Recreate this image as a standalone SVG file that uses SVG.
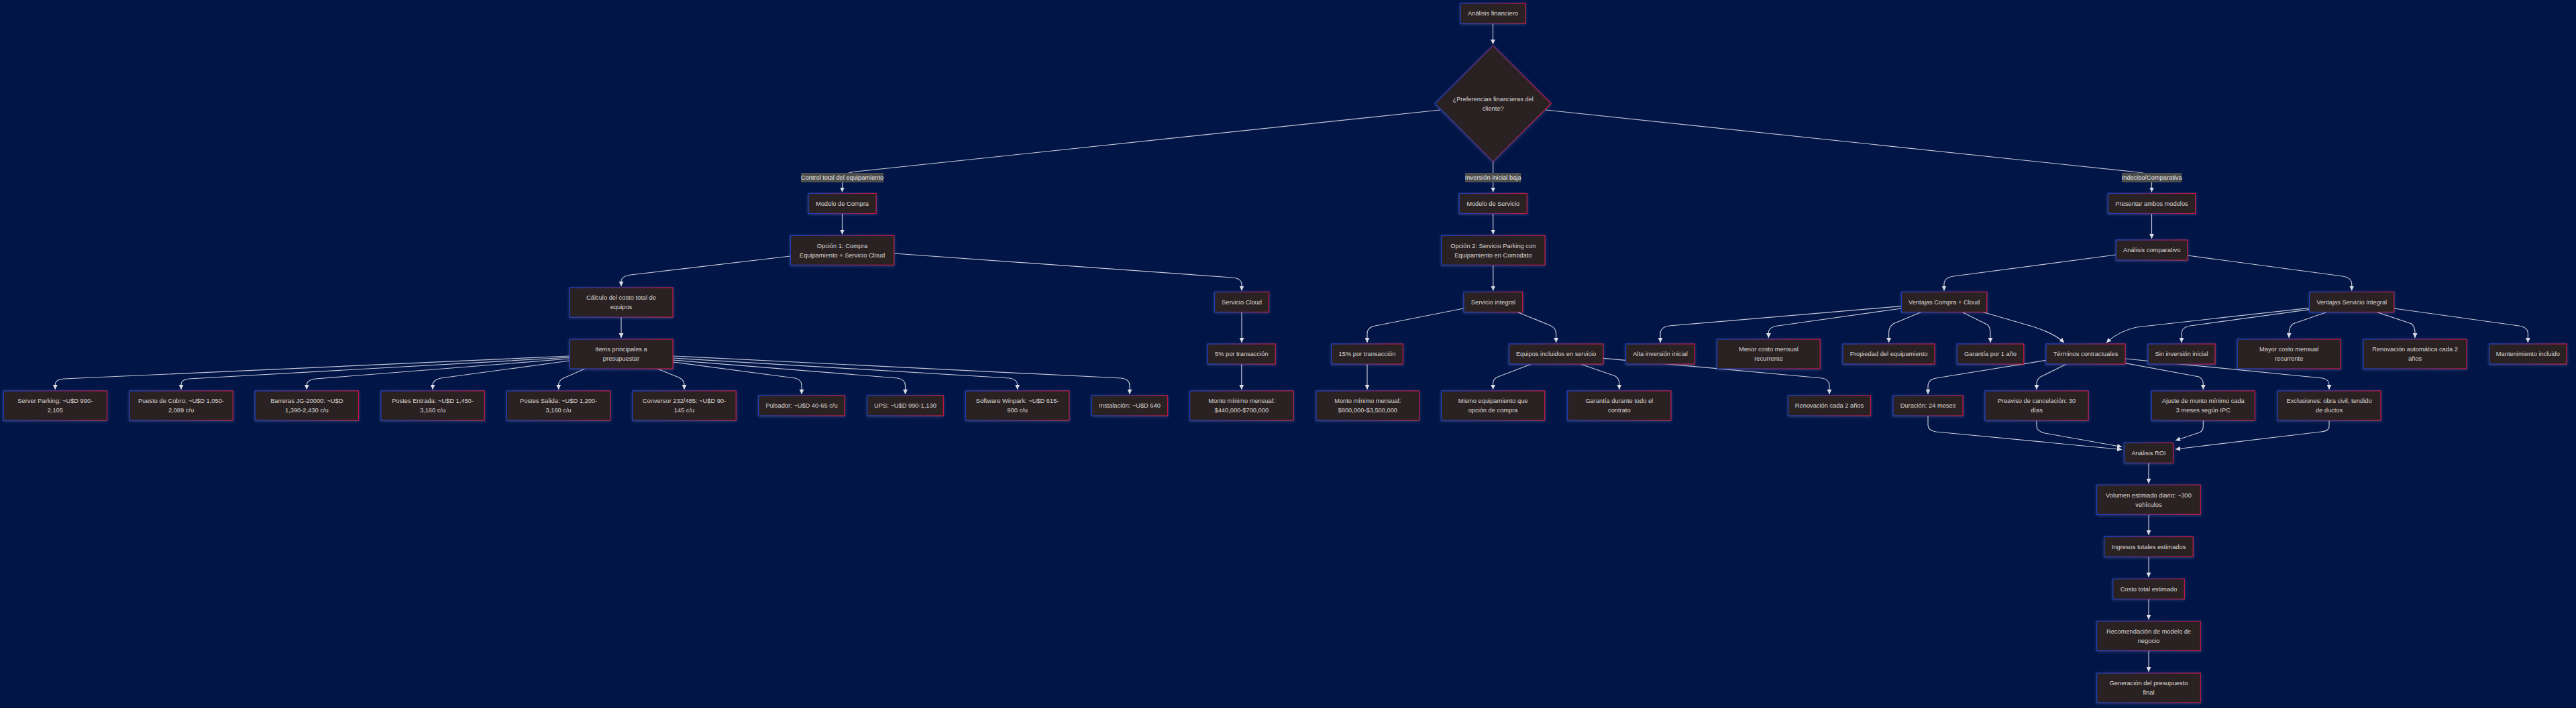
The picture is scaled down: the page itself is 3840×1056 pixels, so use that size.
<svg xmlns="http://www.w3.org/2000/svg" width="3840" height="1056" viewBox="0 0 3840 1056">
<defs>
<linearGradient id="bd" x1="0" y1="0" x2="1" y2="0">
<stop offset="0" stop-color="#1d3ec4"/>
<stop offset="1" stop-color="#cc1046"/>
</linearGradient>
<filter id="sh" x="-20%" y="-30%" width="140%" height="160%">
<feDropShadow dx="0" dy="1" stdDeviation="2" flood-color="#9aa0c8" flood-opacity="0.3"/>
</filter>
<marker id="ah" viewBox="0 0 10 10" refX="10" refY="5" markerWidth="7" markerHeight="7" markerUnits="userSpaceOnUse" orient="auto">
<path d="M0,0 L10,5 L0,10 z" fill="#dcdce4"/>
</marker>
<style>
.n rect, .n polygon { fill:#2c2321; stroke:url(#bd); stroke-width:1.2; filter:url(#sh); }
.n text, .lb text { font-family:"Liberation Sans", Arial, sans-serif; font-size:9.3px; fill:#dcd8d6; text-anchor:middle; }
.lb rect { fill:#4d4d4d; }
.lb text { fill:#e8e8e8; }
#edges path { fill:none; stroke:#c4c6d4; stroke-width:1.2; marker-end:url(#ah); }
</style>
</defs>
<rect width="3840" height="1056" fill="#011547"/>

<g id="edges">
<path d="M2225.5,35 L2225.5,66"/>
<path d="M2147,164 L1275,256 Q1255.5,258 1255.5,270 L1255.5,286.5"/>
<path d="M2225.7,241 L2225.7,286.5"/>
<path d="M2304,164 L3188,257 Q3207.5,259 3207.5,270 L3207.5,286.5"/>
<path d="M1255.5,318.5 L1255.5,349.5"/>
<path d="M2225.7,318.5 L2225.7,349.5"/>
<path d="M3207.5,318.5 L3207.5,356"/>
<path d="M1178.3,382 L940,410 Q926,412 926,420 L926,427"/>
<path d="M1332.7,378 L1837,414 Q1851,415 1851,425 L1851,433.5"/>
<path d="M2225.8,395.3 L2225.8,433.5"/>
<path d="M3154.3,380 L2912,412 Q2898,414 2898,424 L2898,433.5"/>
<path d="M3261,381 L3492,412 Q3505.7,414 3505.7,424 L3505.7,433.5"/>
<path d="M926,473 L926,504"/>
<path d="M1851,465.5 L1851,511"/>
<path d="M2182,460 L2050,486 Q2038,488 2038,498 L2038,511"/>
<path d="M2262,465.5 L2310,485 Q2319.6,489 2319.6,498 L2319.6,511"/>
<path d="M2834.5,456.7 L2488,486 Q2475,488 2475,498 L2475,511"/>
<path d="M2834.5,460 L2650,486 Q2636.4,488 2636.4,496 L2636.4,504"/>
<path d="M2864,465.5 L2822,483 Q2815.6,488 2815.6,496 L2815.6,511"/>
<path d="M2925,465.5 L2962,484 Q2967,488 2967,496 L2967,511"/>
<path d="M2956,465.5 L3030,487 Q3062,497 3077,511"/>
<path d="M3442.7,459.3 L3185,488 Q3158,494 3140,511"/>
<path d="M3442.7,461.7 L3265,486 Q3252,488 3252,498 L3252,511"/>
<path d="M3468.6,465.5 L3418,483 Q3412.2,488 3412.2,496 L3412.2,504"/>
<path d="M3543,465.5 L3595,483 Q3600,488 3600,496 L3600,504"/>
<path d="M3568.7,460 L3755,486 Q3768.4,488 3768.4,498 L3768.4,511"/>
<path d="M1850.8,543 L1850.8,581"/>
<path d="M2038,543 L2038,581"/>
<path d="M2282.7,543 L2233,562 Q2225.6,565 2225.6,572 L2225.6,581"/>
<path d="M2356,543 L2408,561 Q2413.8,565 2413.8,572 L2413.8,581"/>
<path d="M2389.8,534.3 L2716,564 Q2727,566 2727,575 L2727,588"/>
<path d="M3050,537.3 L2886,564 Q2874,566 2874,576 L2874,588"/>
<path d="M3080.5,543 L3042,562 Q3036,566 3036,572 L3036,581"/>
<path d="M3168,541.7 L3278,562 Q3284.3,566 3284.3,572 L3284.3,581"/>
<path d="M3168,535 L3462,564 Q3472,566 3472,574 L3472,581"/>
<path d="M849,531 L95,565 Q82.3,566 82.3,574 L82.3,581"/>
<path d="M849,533 L282,565 Q270,566 270,574 L270,581"/>
<path d="M849,535 L470,565 Q457.3,567 457.3,574 L457.3,581"/>
<path d="M849,538 L657,564 Q645,567 645,574 L645,581"/>
<path d="M872,550 L840,564 Q832.6,568 832.6,574 L832.6,581"/>
<path d="M980,550 L1012,563 Q1020,567 1020,574 L1020,581"/>
<path d="M1003,540 L1185,564 Q1195,566 1195,575 L1195,588"/>
<path d="M1003,537 L1338,564 Q1349.5,566 1349.5,575 L1349.5,588"/>
<path d="M1003,534 L1505,564 Q1516.6,566 1516.6,574 L1516.6,581"/>
<path d="M1003,531 L1672,564 Q1684,566 1684,575 L1684,588"/>
<path d="M2874,620.5 L2874,634 Q2874,642 2886,644 L3163,670.5"/>
<path d="M3036,627 L3036,636 Q3036,643 3048,646 L3163,666.5"/>
<path d="M3284.3,627 L3284.3,636 Q3284.3,644 3276,646 L3243,657"/>
<path d="M3472,627 L3472,636 Q3472,643 3460,644 L3243,670"/>
<path d="M3203,690.5 L3203,721"/>
<path d="M3203,767.3 L3203,798"/>
<path d="M3203,830.5 L3203,861"/>
<path d="M3203,893.5 L3203,924"/>
<path d="M3203,970.5 L3203,1002"/>
</g>

<g id="edge-labels">
<g class="lb"><rect x="1194" y="258" width="123" height="14"/><text x="1255.5" y="268.3">Control total del equipamiento</text></g>
<g class="lb"><rect x="2184" y="258" width="83.3" height="14"/><text x="2225.7" y="268.3">Inversión inicial baja</text></g>
<g class="lb"><rect x="3163" y="258" width="89.3" height="14"/><text x="3207.7" y="268.3">Indeciso/Comparativa</text></g>
</g>

<g id="n_af" class="n"><rect x="2177" y="5" width="97" height="30"/><text x="2225.5" y="23.3">Análisis financiero</text></g>
<g id="n_dec" class="n"><polygon points="2225.7,68 2312.2,154.5 2225.7,241 2139.2,154.5"/><text x="2225.7" y="151">¿Preferencias financieras del</text><text x="2225.7" y="165">cliente?</text></g>
<g id="n_mc" class="n"><rect x="1205" y="288.5" width="101" height="30"/><text x="1255.5" y="306.8">Modelo de Compra</text></g>
<g id="n_ms" class="n"><rect x="2175.2" y="288.5" width="101" height="30"/><text x="2225.7" y="306.8">Modelo de Servicio</text></g>
<g id="n_pam" class="n"><rect x="3142.3" y="288.5" width="130.4" height="30"/><text x="3207.5" y="306.8">Presentar ambos modelos</text></g>
<g id="n_op1" class="n"><rect x="1178.3" y="351.3" width="154.4" height="44"/><text x="1255.5" y="369.6">Opción 1: Compra</text><text x="1255.5" y="383.6">Equipamiento + Servicio Cloud</text></g>
<g id="n_op2" class="n"><rect x="2148.6" y="351.3" width="154.4" height="44"/><text x="2225.8" y="369.6">Opción 2: Servicio Parking con</text><text x="2225.8" y="383.6">Equipamiento en Comodato</text></g>
<g id="n_ac" class="n"><rect x="3154.3" y="358" width="106.7" height="30"/><text x="3207.7" y="376.3">Análisis comparativo</text></g>
<g id="n_calc" class="n"><rect x="849" y="429" width="154" height="44"/><text x="926" y="447.3">Cálculo del costo total de</text><text x="926" y="461.3">equipos</text></g>
<g id="n_sc" class="n"><rect x="1810.5" y="435.5" width="81" height="30"/><text x="1851" y="453.8">Servicio Cloud</text></g>
<g id="n_si" class="n"><rect x="2182" y="435.5" width="87.7" height="30"/><text x="2225.9" y="453.8">Servicio integral</text></g>
<g id="n_vc" class="n"><rect x="2834.5" y="435.5" width="127.3" height="30"/><text x="2898.2" y="453.8">Ventajas Compra + Cloud</text></g>
<g id="n_vs" class="n"><rect x="3442.7" y="435.5" width="126" height="30"/><text x="3505.7" y="453.8">Ventajas Servicio Integral</text></g>
<g id="n_items" class="n"><rect x="849" y="506" width="154" height="44"/><text x="926" y="524.3">Items principales a</text><text x="926" y="538.3">presupuestar</text></g>
<g id="n_5p" class="n"><rect x="1800.4" y="513" width="100.8" height="30"/><text x="1850.8" y="531.3">5% por transacción</text></g>
<g id="n_15p" class="n"><rect x="1984.8" y="513" width="106.5" height="30"/><text x="2038" y="531.3">15% por transacción</text></g>
<g id="n_eq" class="n"><rect x="2249.5" y="513" width="140.3" height="30"/><text x="2319.6" y="531.3">Equipos incluidos en servicio</text></g>
<g id="n_alta" class="n"><rect x="2423.6" y="513" width="102.7" height="30"/><text x="2475" y="531.3">Alta inversión inicial</text></g>
<g id="n_menor" class="n"><rect x="2559.5" y="506" width="153.7" height="44"/><text x="2636.4" y="524.3">Menor costo mensual</text><text x="2636.4" y="538.3">recurrente</text></g>
<g id="n_prop" class="n"><rect x="2747" y="513" width="137" height="30"/><text x="2815.6" y="531.3">Propiedad del equipamiento</text></g>
<g id="n_gar1" class="n"><rect x="2917.3" y="513" width="99.5" height="30"/><text x="2967" y="531.3">Garantía por 1 año</text></g>
<g id="n_term" class="n"><rect x="3050" y="513" width="118" height="30"/><text x="3109" y="531.3">Términos contractuales</text></g>
<g id="n_sin" class="n"><rect x="3202" y="513" width="100" height="30"/><text x="3252" y="531.3">Sin inversión inicial</text></g>
<g id="n_mayor" class="n"><rect x="3335.2" y="506" width="154" height="44"/><text x="3412.2" y="524.3">Mayor costo mensual</text><text x="3412.2" y="538.3">recurrente</text></g>
<g id="n_renaut" class="n"><rect x="3523" y="506" width="154" height="44"/><text x="3600" y="524.3">Renovación automática cada 2</text><text x="3600" y="538.3">años</text></g>
<g id="n_mant" class="n"><rect x="3710.7" y="513" width="115.4" height="30"/><text x="3768.4" y="531.3">Mantenimiento incluido</text></g>

<g id="n_server" class="n"><rect x="5.1" y="583" width="154.4" height="44"/><text x="82.3" y="601.3">Server Parking: ~U$D 990-</text><text x="82.3" y="615.3">2,105</text></g>
<g id="n_puesto" class="n"><rect x="192.8" y="583" width="154.4" height="44"/><text x="270" y="601.3">Puesto de Cobro: ~U$D 1,050-</text><text x="270" y="615.3">2,089 c/u</text></g>
<g id="n_barreras" class="n"><rect x="380.1" y="583" width="154.4" height="44"/><text x="457.3" y="601.3">Barreras JG-20000: ~U$D</text><text x="457.3" y="615.3">1,390-2,430 c/u</text></g>
<g id="n_entrada" class="n"><rect x="567.8" y="583" width="154.4" height="44"/><text x="645" y="601.3">Postes Entrada: ~U$D 1,450-</text><text x="645" y="615.3">3,160 c/u</text></g>
<g id="n_salida" class="n"><rect x="755.4" y="583" width="154.4" height="44"/><text x="832.6" y="601.3">Postes Salida: ~U$D 1,200-</text><text x="832.6" y="615.3">3,160 c/u</text></g>
<g id="n_conv" class="n"><rect x="942.8" y="583" width="154.4" height="44"/><text x="1020" y="601.3">Conversor 232/485: ~U$D 90-</text><text x="1020" y="615.3">145 c/u</text></g>
<g id="n_puls" class="n"><rect x="1130.8" y="590" width="128.3" height="30"/><text x="1195" y="608.3">Pulsador: ~U$D 40-65 c/u</text></g>
<g id="n_ups" class="n"><rect x="1292.7" y="590" width="113.6" height="30"/><text x="1349.5" y="608.3">UPS: ~U$D 990-1,130</text></g>
<g id="n_soft" class="n"><rect x="1439.4" y="583" width="154.4" height="44"/><text x="1516.6" y="601.3">Software Winpark: ~U$D 615-</text><text x="1516.6" y="615.3">900 c/u</text></g>
<g id="n_inst" class="n"><rect x="1627.5" y="590" width="113" height="30"/><text x="1684" y="608.3">Instalación: ~U$D 640</text></g>
<g id="n_monto1" class="n"><rect x="1773.6" y="583" width="154.4" height="44"/><text x="1850.8" y="601.3">Monto mínimo mensual:</text><text x="1850.8" y="615.3">$440,000-$700,000</text></g>
<g id="n_monto2" class="n"><rect x="1961.9" y="583" width="153.7" height="44"/><text x="2038.8" y="601.3">Monto mínimo mensual:</text><text x="2038.8" y="615.3">$800,000-$3,500,000</text></g>
<g id="n_mismo" class="n"><rect x="2148.5" y="583" width="154.2" height="44"/><text x="2225.6" y="601.3">Mismo equipamiento que</text><text x="2225.6" y="615.3">opción de compra</text></g>
<g id="n_garc" class="n"><rect x="2336.6" y="583" width="154.2" height="44"/><text x="2413.8" y="601.3">Garantía durante todo el</text><text x="2413.8" y="615.3">contrato</text></g>
<g id="n_renov" class="n"><rect x="2665.5" y="590" width="123" height="30"/><text x="2727" y="608.3">Renovación cada 2 años</text></g>
<g id="n_dur" class="n"><rect x="2822" y="590" width="104" height="30"/><text x="2874" y="608.3">Duración: 24 meses</text></g>
<g id="n_pre" class="n"><rect x="2959" y="583" width="154" height="44"/><text x="3036" y="601.3">Preaviso de cancelación: 30</text><text x="3036" y="615.3">días</text></g>
<g id="n_aj" class="n"><rect x="3207.3" y="583" width="154" height="44"/><text x="3284.3" y="601.3">Ajuste de monto mínimo cada</text><text x="3284.3" y="615.3">3 meses según IPC</text></g>
<g id="n_excl" class="n"><rect x="3395" y="583" width="154" height="44"/><text x="3472" y="601.3">Exclusiones: obra civil, tendido</text><text x="3472" y="615.3">de ductos</text></g>

<g id="n_roi" class="n"><rect x="3166.5" y="660.5" width="73" height="30"/><text x="3203" y="678.8">Análisis ROI</text></g>
<g id="n_vol" class="n"><rect x="3125.7" y="723.3" width="154.6" height="44"/><text x="3203" y="741.6">Volumen estimado diario: ~300</text><text x="3203" y="755.6">vehículos</text></g>
<g id="n_ing" class="n"><rect x="3136.8" y="800.5" width="132.4" height="30"/><text x="3203" y="818.8">Ingresos totales estimados</text></g>
<g id="n_costo" class="n"><rect x="3149.7" y="863.5" width="106.6" height="30"/><text x="3203" y="881.8">Costo total estimado</text></g>
<g id="n_rec" class="n"><rect x="3125.7" y="926.5" width="154.6" height="44"/><text x="3203" y="944.8">Recomendación de modelo de</text><text x="3203" y="958.8">negocio</text></g>
<g id="n_gen" class="n"><rect x="3125.7" y="1004" width="154.6" height="44"/><text x="3203" y="1022.3">Generación del presupuesto</text><text x="3203" y="1036.3">final</text></g>
</svg>
